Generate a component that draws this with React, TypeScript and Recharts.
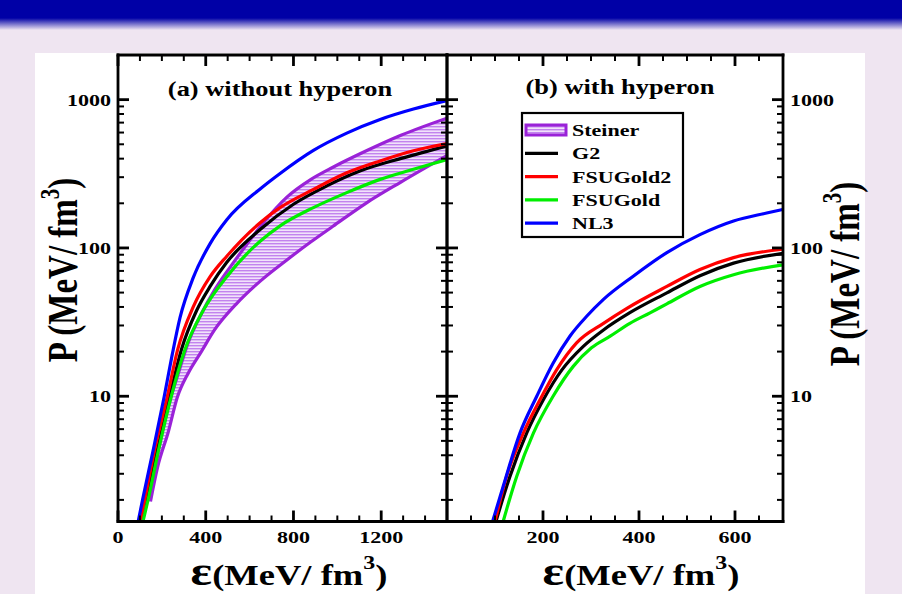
import React from 'react';
import { ComposedChart, Line, Area, XAxis, YAxis } from 'recharts';

// ---------- data (E in MeV/fm^3, P in MeV/fm^3) ----------
// Panel (a): without hyperon
const nl3A = [[92,1.43],[112,2.0],[160,4.3],[211,10],[247,19],[283,34],[343,63],[420,107],[496,155],[648,250],[739,318],[891,455],[1043,595],[1195,735],[1347,864],[1500,985]];
const fsu2A = [[103,1.43],[122,2.0],[167,4.35],[225,10],[272,20.6],[343,40],[420,64],[496,88],[648,148],[739,187],[891,248],[1043,321],[1195,386],[1347,452],[1500,505]];
const g2A = [[106,1.43],[129,2.0],[179,4.35],[236,10],[289,20.6],[359,38],[420,55],[496,80],[648,133],[800,197],[952,262],[1103,330],[1300,405],[1500,487]];
const fsuA = [[114,1.43],[137,2.0],[185,4.35],[243,10],[305,20.6],[389,38],[496,64],[648,111],[739,141],[891,187],[1043,236],[1195,290],[1347,339],[1500,395]];

// Steiner band (a)
const steinerE = [148,180,230,270,320,380,440,540,650,770,880,980,1130,1290,1500];
const steinerLow = [1.95,3.3,5.8,9.8,14.3,20,28,42,60,83,110,140,200,278,420];
const steinerHigh = [2.1,4.0,8.6,13.5,23,36,52,85,140,220,290,350,450,575,750];

// Panel (b): with hyperon
const nl3B = [[95,1.43],[117,2.46],[152,5.64],[187,10],[221,16.7],[256,25.4],[291,34.6],[326,45],[388,64.5],[458,93],[527,123],[597,152],[666,172],[700,182]];
const fsu2B = [[100,1.43],[124,2.87],[159,5.64],[194,9.5],[228,15],[270,22.9],[326,31],[374,39],[458,55],[527,71.5],[597,86],[700,98]];
const g2B = [[102,1.43],[131,2.87],[166,5.64],[201,9.5],[239,15],[284,21.7],[326,28],[381,36.6],[458,49.8],[527,65],[597,79],[700,92]];
const fsuB = [[117,1.43],[145,2.87],[180,5.64],[221,10],[263,15.9],[301,21.2],[340,25.4],[381,31],[423,36.5],[458,42],[527,55],[597,66],[700,77]];

// axes
const yDomain = [1.43, 2000];
const yTicks = [2,3,4,5,6,7,8,9,10,20,30,40,50,60,70,80,90,100,200,300,400,500,600,700,800,900,1000];
const yMajor = [10, 100, 1000];
const xDomainA = [0, 1500];
const xTicksA = [0,100,200,300,400,500,600,700,800,900,1000,1100,1200,1300,1400,1500];
const xMajorA = [0, 400, 800, 1200];
const xDomainB = [0, 700];
const xTicksB = [0,50,100,150,200,250,300,350,400,450,500,550,600,650,700];
const xMajorB = [200, 400, 600];

const legendItems = [
  { name: 'Steiner', color: '#9a22d8', band: true },
  { name: 'G2', color: '#000000' },
  { name: 'FSUGold2', color: '#ff0000' },
  { name: 'FSUGold', color: '#00ee00' },
  { name: 'NL3', color: '#0000ff' },
];

// ---------- helpers ----------
const FONT = "'Liberation Serif','Times New Roman',serif";
const SX = 1.26;
const toPts = (arr: number[][]) => arr.map(([E, P]) => ({ E, P }));
const steinerData = steinerE.map((E, i) => ({ E, range: [steinerLow[i], steinerHigh[i]] }));

function STxt(props: { x: number; y: number; anchor?: string; size?: number; children: any }) {
  const { x, y, anchor = 'middle', size = 17.5, children } = props;
  return (
    <text transform={`translate(${x},${y}) scale(${SX},1)`} textAnchor={anchor as any}
      fontFamily={FONT} fontWeight="bold" fontSize={size} fill="#000">{children}</text>
  );
}

const mkTick = (side: 'left' | 'right' | 'top' | 'bottom', majors: number[], labelled: boolean) => (p: any) => {
  const v = p.payload.value;
  const maj = majors.includes(v);
  const L = maj ? 11 : 6;
  const sw = maj ? 2.8 : 2;
  const x = Number(p.x), y = Number(p.y);
  let line: any = null;
  let label: any = null;
  if (side === 'left') {
    line = <line x1={x} x2={x + L} y1={y} y2={y} stroke="#000" strokeWidth={sw} />;
    if (labelled && maj) label = <STxt x={x - 7} y={y + 6} anchor="end">{v}</STxt>;
  } else if (side === 'right') {
    line = <line x1={x} x2={x - L} y1={y} y2={y} stroke="#000" strokeWidth={sw} />;
    if (labelled && maj) label = <STxt x={x + 7} y={y + 6} anchor="start">{v}</STxt>;
  } else if (side === 'top') {
    line = <line x1={x} x2={x} y1={y} y2={y + L} stroke="#000" strokeWidth={sw} />;
  } else {
    line = <line x1={x} x2={x} y1={y} y2={y - L} stroke="#000" strokeWidth={sw} />;
    if (labelled && maj) label = <STxt x={x} y={y + 21} anchor="middle">{v}</STxt>;
  }
  return <g>{line}{label}</g>;
};

const axisLine = { stroke: '#000', strokeWidth: 2.8, strokeLinecap: 'square' } as any;

function Panel(props: {
  width: number; margin: any; xDomain: number[]; xTicks: number[]; xMajor: number[];
  leftLabels: boolean; rightLabels: boolean; band: boolean; series: { data: number[][]; color: string }[];
}) {
  const { width, margin, xDomain, xTicks, xMajor, leftLabels, rightLabels, band, series } = props;
  return (
    <ComposedChart width={width} height={594} margin={margin} data={band ? steinerData : []}>
      <XAxis xAxisId="b" orientation="bottom" dataKey="E" type="number" domain={xDomain} ticks={xTicks}
        allowDataOverflow interval={0} height={1} tickSize={0} tickMargin={0} tickLine={false}
        axisLine={axisLine} tick={mkTick('bottom', xMajor, true)} />
      <XAxis xAxisId="t" orientation="top" dataKey="E" type="number" domain={xDomain} ticks={xTicks}
        allowDataOverflow interval={0} height={1} tickSize={0} tickMargin={0} tickLine={false}
        axisLine={axisLine} tick={mkTick('top', xMajor, false)} />
      <YAxis yAxisId="l" orientation="left" type="number" scale="log" domain={yDomain} ticks={yTicks}
        allowDataOverflow interval={0} width={1} tickSize={0} tickMargin={0} tickLine={false}
        axisLine={axisLine} tick={mkTick('left', yMajor, leftLabels)} />
      <YAxis yAxisId="r" orientation="right" type="number" scale="log" domain={yDomain} ticks={yTicks}
        allowDataOverflow interval={0} width={1} tickSize={0} tickMargin={0} tickLine={false}
        axisLine={axisLine} tick={mkTick('right', yMajor, rightLabels)} />
      {band && (
        <Area xAxisId="b" yAxisId="l" dataKey="range" type="monotone" fill="url(#hatch)" fillOpacity={1}
          stroke="#9a22d8" strokeWidth={3.2} isAnimationActive={false} dot={false} activeDot={false} />
      )}
      {series.map((s, i) => (
        <Line key={i} xAxisId="b" yAxisId="l" data={toPts(s.data)} dataKey="P" type="monotone"
          stroke={s.color} strokeWidth={3.2} dot={false} activeDot={false} isAnimationActive={false} />
      ))}
    </ComposedChart>
  );
}

function RotLabel(props: { x: number; y: number }) {
  const { x, y } = props;
  return (
    <text transform={`translate(${x},${y}) scale(${SX},1) rotate(-90)`} textAnchor="middle"
      fontFamily={FONT} fontWeight="bold" fontSize={33} fill="#000">
      P (MeV/ fm<tspan fontSize={21} dy={-14}>3</tspan><tspan dy={14}>)</tspan>
    </text>
  );
}

function XLabel(props: { x: number; y: number }) {
  const { x, y } = props;
  return (
    <text transform={`translate(${x},${y}) scale(${SX},1)`} textAnchor="middle"
      fontFamily={FONT} fontWeight="bold" fontSize={29} fill="#000">
      <tspan fontSize={40}>ε</tspan>(MeV/ fm<tspan fontSize={19} dy={-16}>3</tspan><tspan dy={16}>)</tspan>
    </text>
  );
}

export default function App() {
  return (
    <div style={{ position: 'absolute', left: 0, top: 0, width: 902, height: 594, overflow: 'hidden',
      background: 'linear-gradient(to bottom, #0000a6 0px, #0000a6 18px, #efe5f1 30px, #efe5f1 100%)' }}>
      <div style={{ position: 'absolute', left: 35, top: 53, width: 830, height: 541, background: '#ffffff' }} />
      <svg width={0} height={0} style={{ position: 'absolute' }}>
        <defs>
          <pattern id="hatch" patternUnits="userSpaceOnUse" width={6} height={3}>
            <rect width={6} height={3} fill="#f1e2fb" />
            <rect width={6} height={1.4} fill="#c283ee" />
          </pattern>
        </defs>
      </svg>
      <div style={{ position: 'absolute', left: 0, top: 0 }}>
        <Panel width={460} margin={{ top: 54, right: 12, bottom: 71.5, left: 117 }}
          xDomain={xDomainA} xTicks={xTicksA} xMajor={xMajorA} leftLabels rightLabels={false} band
          series={[{ data: g2A, color: '#000000' }, { data: fsu2A, color: '#ff0000' },
            { data: fsuA, color: '#00ee00' }, { data: nl3A, color: '#0000ff' }]} />
      </div>
      <div style={{ position: 'absolute', left: 440, top: 0 }}>
        <Panel width={462} margin={{ top: 54, right: 118, bottom: 71.5, left: 6 }}
          xDomain={xDomainB} xTicks={xTicksB} xMajor={xMajorB} leftLabels={false} rightLabels band={false}
          series={[{ data: g2B, color: '#000000' }, { data: fsu2B, color: '#ff0000' },
            { data: fsuB, color: '#00ee00' }, { data: nl3B, color: '#0000ff' }]} />
      </div>
      <svg width={902} height={594} style={{ position: 'absolute', left: 0, top: 0, pointerEvents: 'none' }}>
        <STxt x={280} y={96} size={21}>(a) without hyperon</STxt>
        <STxt x={620} y={94} size={21}>(b) with hyperon</STxt>
        <RotLabel x={77} y={270} />
        <RotLabel x={859} y={274} />
        <XLabel x={289} y={585} />
        <XLabel x={641} y={585} />
        <g>
          <rect x={522} y={113} width={161} height={124} fill="#fff" stroke="#000" strokeWidth={2.2} />
          {legendItems.map((it, i) => {
            const cy = 130 + i * 23.3;
            return (
              <g key={it.name}>
                {it.band ? (
                  <rect x={526} y={cy - 5} width={40} height={10} fill="url(#hatch)" stroke={it.color} strokeWidth={3} />
                ) : (
                  <line x1={525} x2={558} y1={cy} y2={cy} stroke={it.color} strokeWidth={3.2} />
                )}
                <STxt x={572} y={cy + 6} anchor="start" size={17.5}>{it.name}</STxt>
              </g>
            );
          })}
        </g>
      </svg>
    </div>
  );
}
